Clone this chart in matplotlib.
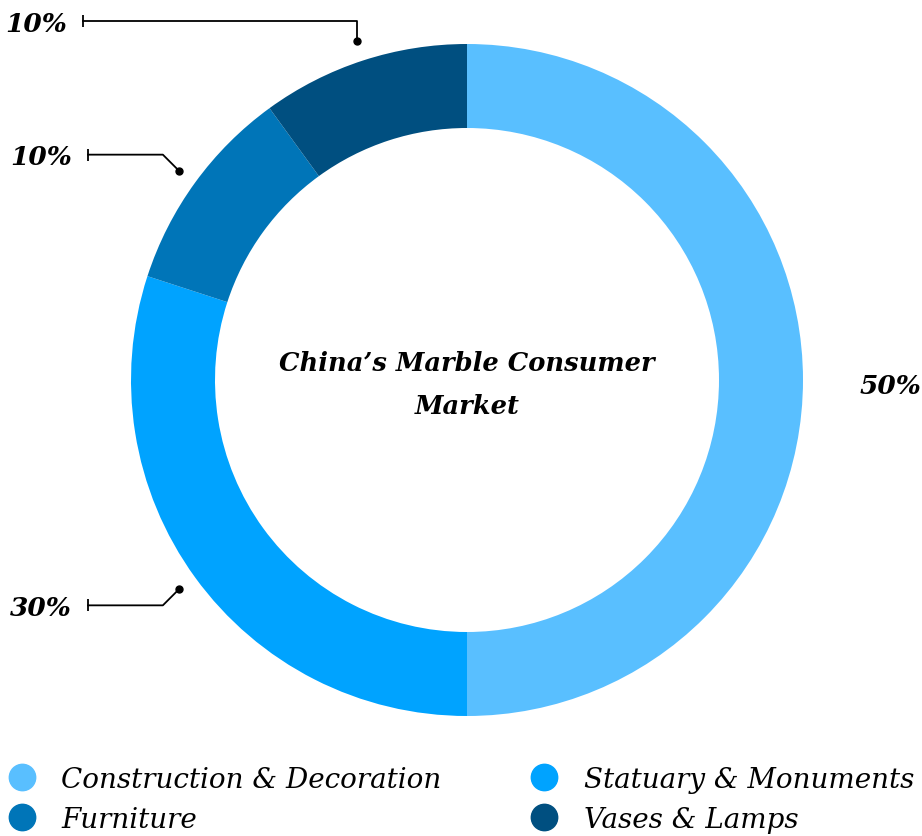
import numpy as np
import matplotlib.pyplot as plt
from matplotlib.lines import Line2D

categories = ['Construction & Decoration', 'Statuary & Monuments', 'Furniture', 'Vases & Lamps']
shares = [50, 30, 10, 10]
pct_labels = ['50%', '30%', '10%', '10%']
colors = ['#59bfff', '#00a3ff', '#0075b8', '#004f80']
title = "China\u2019s Marble Consumer\nMarket"

FONT = 'DejaVu Serif'

fig = plt.figure(figsize=(9.22, 8.37), dpi=100)
ax = fig.add_axes([0, 0, 1, 1])

cx, cy, R = 467, 456, 336
wedges, _ = ax.pie(shares, colors=colors, startangle=90, counterclock=False,
                   center=(cx, cy), radius=R,
                   wedgeprops=dict(width=R * 0.25, linewidth=0))
ax.set_xlim(0, 922)
ax.set_ylim(0, 837)
ax.set_aspect('equal')
ax.axis('off')

ax.text(cx, cy - 4, title, ha='center', va='center', fontsize=18.5,
        fontweight='bold', fontstyle='italic', family=FONT, linespacing=1.9)


def mid_angle(w):
    return np.deg2rad((w.theta1 + w.theta2) / 2)


for w, lab in zip(wedges, pct_labels):
    a = mid_angle(w)
    if np.cos(a) > 0.5:
        # right side label, no leader
        ax.text(cx + 1.26 * R * np.cos(a), cy + 1.26 * R * np.sin(a) - 5, lab,
                ha='center', va='center', fontsize=19, fontweight='bold',
                fontstyle='italic', family=FONT)
        continue
    px, py = cx + 1.06 * R * np.cos(a), cy + 1.06 * R * np.sin(a)
    if np.sin(a) > 0.9:
        ey = 837 - 22
        ex, tx = px, 83
    else:
        d = 16 * np.sign(np.sin(a))
        ex, ey = px - 16, py + d
        tx = 88
    ax.plot([px, ex, tx], [py, ey, ey], color='black', lw=1.3)
    ax.plot([px], [py], 'o', color='black', ms=5)
    ax.plot([tx], [ey], marker='|', color='black', ms=8, mew=1.3)
    ax.text(tx - 16, ey - 2, lab, ha='right', va='center', fontsize=19,
            fontweight='bold', fontstyle='italic', family=FONT)

# legend filled row by row: reorder for matplotlib's column-wise fill
order = [0, 2, 1, 3]
handles = [Line2D([], [], marker='o', ls='', color=colors[i], ms=19) for i in order]
leg = ax.legend(handles, [categories[i] for i in order], ncol=2, loc='lower left',
                bbox_to_anchor=(8 / 922, 3 / 837), frameon=False,
                prop=dict(family=FONT, style='italic', size=20),
                handletextpad=0.92, columnspacing=3.2, labelspacing=0.48,
                handlelength=1.0, borderaxespad=0.0, borderpad=0.0)

plt.savefig('out.png', dpi=100)
plt.close(fig)
